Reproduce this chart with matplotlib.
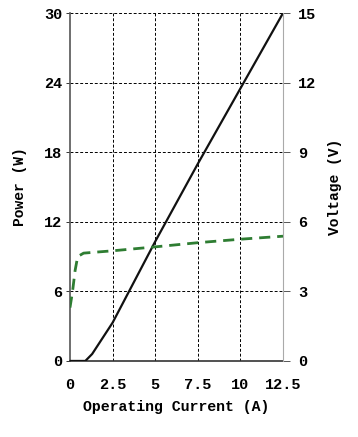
import matplotlib.pyplot as plt

# Daten
current_p = [0, 0.9, 1.3, 2.5, 5.0, 7.5, 10.0, 12.5]
power = [0, 0, 0.6, 3.3, 10.3, 17.0, 23.5, 30.0]

current_v = [0, 0.15, 0.3, 0.45, 0.8, 2.5, 5.0, 7.5, 10.0, 12.5]
voltage = [2.3, 3.0, 3.9, 4.5, 4.65, 4.75, 4.92, 5.1, 5.25, 5.38]

x_ticks = [0, 2.5, 5, 7.5, 10, 12.5]
x_labels = ['0', '2.5', '5', '7.5', '10', '12.5']
p_ticks = [0, 6, 12, 18, 24, 30]
v_ticks = [0, 3, 6, 9, 12, 15]

font = 'Liberation Mono'

fig = plt.figure(figsize=(3.58, 4.37), dpi=100)
ax = fig.add_axes([0.1955, 0.174, 0.595, 0.796])
ax2 = ax.twinx()

# Leistungskurve
ax.plot(current_p, power, color='#111111', linewidth=1.6, zorder=3)
# Spannungskurve
ax2.plot(current_v, voltage, color='#2e7d32', linewidth=2.0,
         linestyle=(0, (4, 2.5)), zorder=3)

ax.set_xlim(0, 12.5)
ax.set_ylim(0, 30)
ax2.set_ylim(0, 15)

ax.set_xticks(x_ticks)
ax.set_xticklabels(x_labels)
ax.set_yticks(p_ticks)
ax2.set_yticks(v_ticks)

# Gitter
for xv in x_ticks[1:-1]:
    ax.axvline(xv, color='black', linestyle=(0, (3, 2)), linewidth=0.7, zorder=1)
for yv in p_ticks[1:]:
    ax.axhline(yv, color='black', linestyle=(0, (3, 2)), linewidth=0.7, zorder=1)

# Achsen
ax.spines['top'].set_visible(False)
ax2.spines['top'].set_visible(False)
ax.spines['right'].set_visible(False)
ax2.spines['left'].set_visible(False)
ax2.spines['bottom'].set_visible(False)
ax.spines['left'].set_color('#555555')
ax.spines['bottom'].set_color('#333333')
ax2.spines['right'].set_color('#aaaaaa')
ax.spines['left'].set_linewidth(1.2)
ax.spines['bottom'].set_linewidth(1.2)

ax.tick_params(axis='x', length=0, pad=12, labelsize=11)
ax.tick_params(axis='y', length=3, width=0.7, color='#333333', pad=2.5, labelsize=11)
ax2.tick_params(axis='y', length=5, width=0.7, color='#555555', pad=6, labelsize=11)

for lab in ax.get_xticklabels() + ax.get_yticklabels() + ax2.get_yticklabels():
    lab.set_fontfamily(font)
    lab.set_fontweight('bold')

ax.set_xlabel('Operating Current (A)', fontname=font, fontsize=10.7,
              fontweight='bold', labelpad=6)
ax.set_ylabel('Power (W)', fontname=font, fontsize=10.5, fontweight='bold',
              labelpad=12)
ax2.set_ylabel('Voltage (V)', fontname=font, fontsize=10.5, fontweight='bold',
               labelpad=8)

fig.savefig('out.png', dpi=100)
